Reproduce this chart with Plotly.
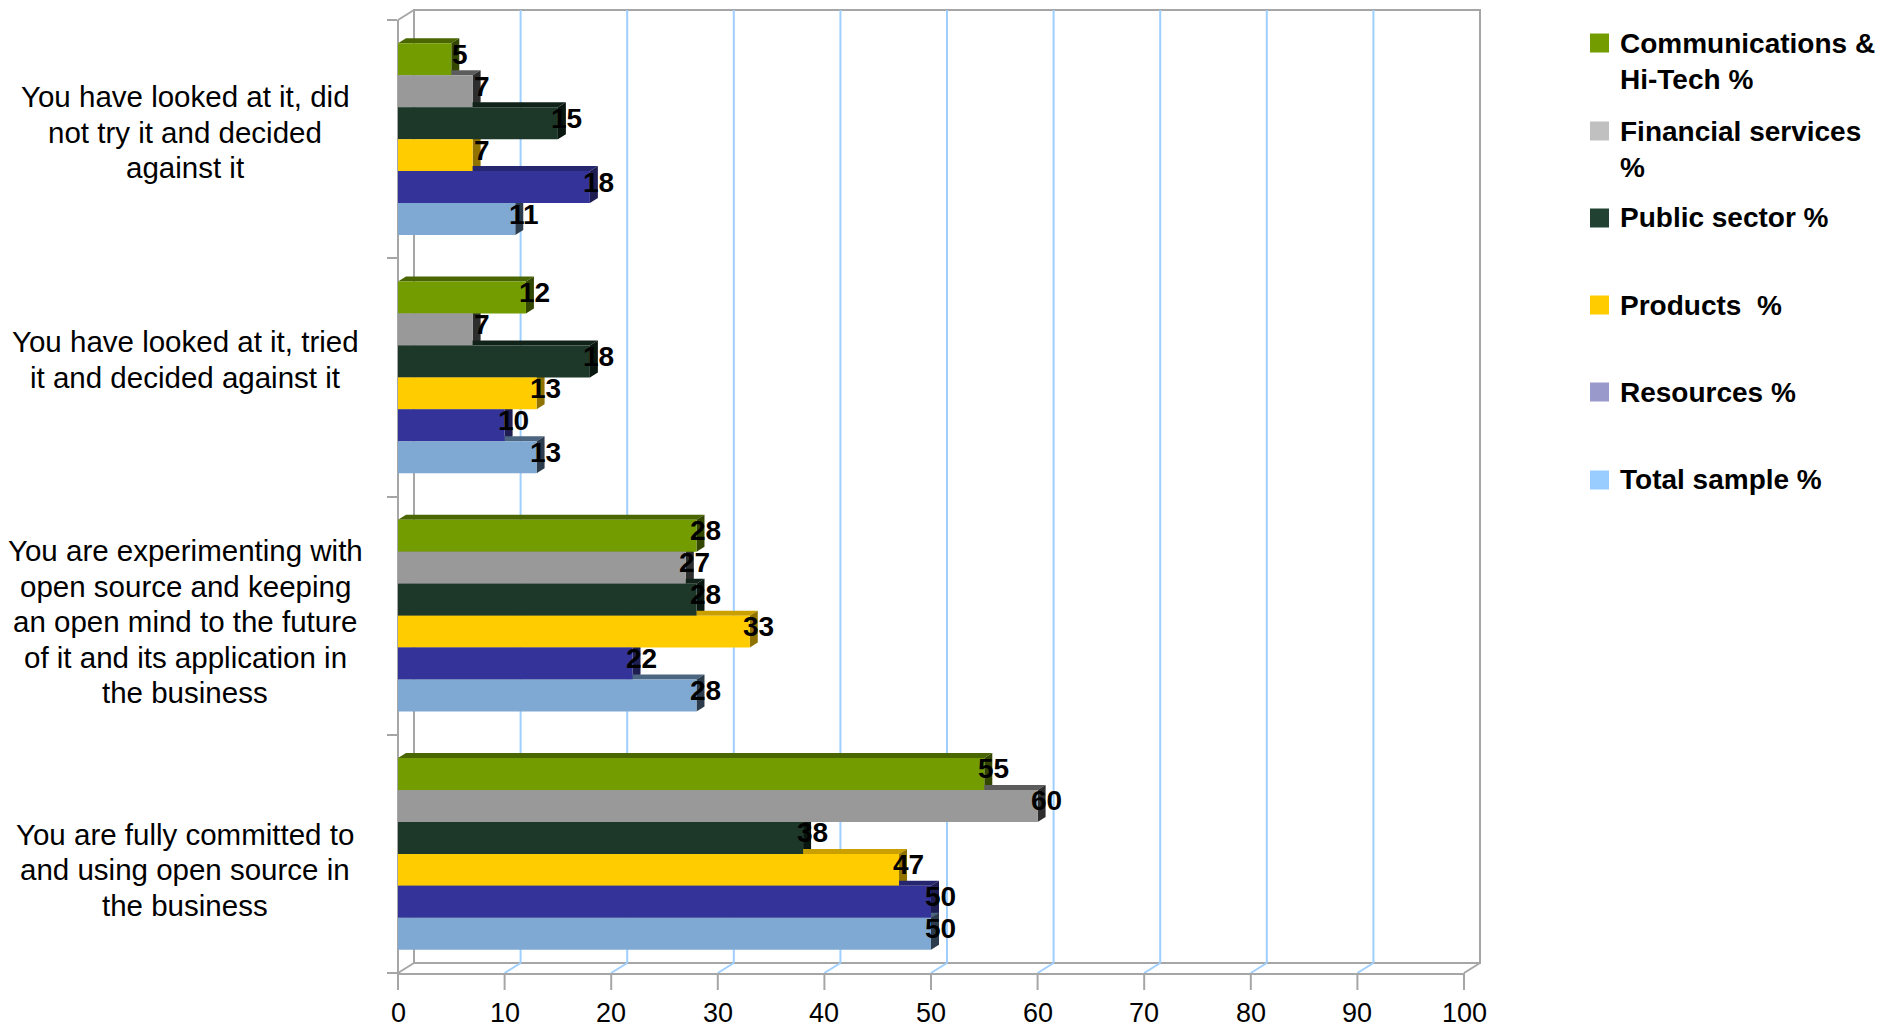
import plotly.graph_objects as go

# ---- data -------------------------------------------------------------
categories = [
    "You have looked at it, did<br>not try it and decided<br>against it",
    "You have looked at it, tried<br>it and decided against it",
    "You are experimenting with<br>open source and keeping<br>an open mind to the future<br>of it and its application in<br>the business",
    "You are fully committed to<br>and using open source in<br>the business",
]
series_names = [
    "Communications &<br>Hi-Tech %",
    "Financial services<br>%",
    "Public sector %",
    "Products  %",
    "Resources %",
    "Total sample %",
]
comms = [5, 12, 28, 55]
financial = [7, 7, 27, 60]
public = [15, 18, 28, 38]
products = [7, 13, 33, 47]
resources = [18, 10, 22, 50]
total = [11, 13, 28, 50]
x_ticks = [0, 10, 20, 30, 40, 50, 60, 70, 80, 90, 100]

series_values = [comms, financial, public, products, resources, total]

# ---- styling ----------------------------------------------------------
bar_colors = ["#739C00", "#999999", "#1D3829", "#FFCC00", "#333399", "#7FA8D2"]
top_colors = ["#4A6600", "#5C5C5C", "#112219", "#C9A000", "#26266E", "#4C6580"]
side_colors = ["#334700", "#2E2E2E", "#0A1610", "#8F7200", "#1E1E52", "#2C3C4C"]
legend_colors = ["#739C00", "#C0C0C0", "#214232", "#FFCC00", "#9999CC", "#99CCFF"]

FONT = "Liberation Sans, Arial, sans-serif"
GRID = "#9FCFFF"
FRAME = "#A6A6A6"

W, H = 1887, 1028
L, R, T, B = 398, 1464, 20, 973
PW, PH = R - L, B - T
DX, DY = 16, 10          # depth of the chart walls (px)
BDX, BDY = 8, 5          # depth of each bar (px)
TICK = 17                # length of the x tick marks (px)
XMAX = 100
NCAT = len(categories)
GROUP = 0.805
NS = len(series_values)
BW = GROUP / NS

ux = PW / XMAX           # px per x unit
uy = PH / NCAT           # px per category


def px_x(px):
    return (px - L) / PW


def px_y(py):
    return (B - py) / PH


fig = go.Figure()

# bars
for i, (name, vals) in enumerate(zip(series_names, series_values)):
    fig.add_trace(go.Bar(
        x=vals,
        y=list(range(NCAT)),
        orientation="h",
        width=BW,
        offset=-GROUP / 2 + i * BW,
        marker=dict(color=bar_colors[i], line=dict(width=0)),
        name=name.replace("<br>", " "),
        showlegend=False,
        hoverinfo="x+name",
    ))

shapes = []

# back wall, side wall and floor edges
dxp, dyp = DX / PW, DY / PH
line = dict(color=FRAME, width=2)
shapes.append(dict(type="rect", xref="paper", yref="paper", layer="below",
                   x0=dxp, x1=1 + dxp, y0=dyp, y1=1 + dyp, line=line))
for t in x_ticks[1:-1]:
    xp = t / XMAX
    shapes.append(dict(type="line", xref="paper", yref="paper", layer="below",
                       x0=xp + dxp, x1=xp + dxp, y0=dyp, y1=1 + dyp,
                       line=dict(color=GRID, width=2)))
    shapes.append(dict(type="line", xref="paper", yref="paper", layer="below",
                       x0=xp, x1=xp + dxp, y0=0, y1=dyp,
                       line=dict(color=GRID, width=2)))
for (xa, ya) in [(0, 0), (0, 1), (1, 0)]:
    shapes.append(dict(type="line", xref="paper", yref="paper", layer="below",
                       x0=xa, x1=xa + dxp, y0=ya, y1=ya + dyp, line=line))
shapes.append(dict(type="line", xref="paper", yref="paper", layer="below",
                   x0=0, x1=0, y0=0, y1=1, line=line))
# x tick marks below the floor edge
for t in x_ticks:
    xp = t / XMAX
    shapes.append(dict(type="line", xref="paper", yref="paper",
                       x0=xp, x1=xp, y0=0, y1=-TICK / PH,
                       line=dict(color=FRAME, width=2)))

# 3D faces of every bar
bdx, bdy = BDX / ux, BDY / uy
for i, vals in enumerate(series_values):
    for c, v in enumerate(vals):
        yt = c - GROUP / 2 + i * BW
        yb = yt + BW
        top = (f"M 0,{yt} L {v},{yt} L {v + bdx},{yt - bdy} "
               f"L {bdx},{yt - bdy} Z")
        side = (f"M {v},{yt} L {v + bdx},{yt - bdy} L {v + bdx},{yb - bdy} "
                f"L {v},{yb} Z")
        shapes.append(dict(type="path", xref="x", yref="y", layer="below",
                           path=top, fillcolor=top_colors[i], line=dict(width=0)))
        shapes.append(dict(type="path", xref="x", yref="y", layer="below",
                           path=side, fillcolor=side_colors[i], line=dict(width=0)))

annotations = []

# value labels
for i, vals in enumerate(series_values):
    for c, v in enumerate(vals):
        yc = c - GROUP / 2 + (i + 0.5) * BW
        annotations.append(dict(
            x=v, y=yc, xref="x", yref="y", text=f"<b>{v}</b>",
            showarrow=False, xanchor="center", yanchor="middle",
            xshift=9, yshift=5,
            font=dict(family=FONT, size=28, color="#000000"),
        ))

# x tick labels
for t in x_ticks:
    annotations.append(dict(
        x=t, y=px_y(1013), xref="x", yref="paper", text=str(t),
        showarrow=False, xanchor="center", yanchor="middle",
        font=dict(family=FONT, size=27, color="#000000"),
    ))

# category labels, one annotation per line
cat_shift = [7, 18, -6, -16]
CAT_LINE = 35.5
for c, label in enumerate(categories):
    lines = label.split("<br>")
    n = len(lines)
    for j, txt in enumerate(lines):
        annotations.append(dict(
            x=px_x(185), y=c, xref="paper", yref="y", text=txt,
            showarrow=False, xanchor="center", yanchor="middle",
            yshift=cat_shift[c] - (j - (n - 1) / 2) * CAT_LINE,
            font=dict(family=FONT, size=29.5, color="#000000"),
        ))

# legend
legend_y = [43, 131, 218, 305, 392, 480]
LEG_LINE = 36.5
for k, (name, col) in enumerate(zip(series_names, legend_colors)):
    cy = legend_y[k]
    shapes.append(dict(type="rect", xref="paper", yref="paper",
                       x0=px_x(1590), x1=px_x(1609),
                       y0=px_y(cy + 9.5), y1=px_y(cy - 9.5),
                       fillcolor=col, line=dict(width=0)))
    for j, txt in enumerate(name.split("<br>")):
        annotations.append(dict(
            x=px_x(1618), y=px_y(cy + j * LEG_LINE), xref="paper", yref="paper",
            text=f"<b>{txt}</b>", showarrow=False,
            xanchor="left", yanchor="middle",
            font=dict(family=FONT, size=28, color="#000000"),
        ))

fig.update_layout(
    width=W, height=H,
    margin=dict(l=L, r=W - R, t=T, b=H - B, pad=0, autoexpand=False),
    paper_bgcolor="#FFFFFF",
    plot_bgcolor="rgba(0,0,0,0)",
    barmode="overlay",
    showlegend=False,
    shapes=shapes,
    annotations=annotations,
    xaxis=dict(
        range=[0, XMAX],
        showticklabels=False,
        showgrid=False, zeroline=False, automargin=False,
        showline=True, linecolor=FRAME, linewidth=2,
        ticks="",
        fixedrange=True,
    ),
    yaxis=dict(
        range=[NCAT - 0.5, -0.5],
        tickvals=[c - 0.5 for c in range(NCAT + 1)],
        showticklabels=False, automargin=False,
        showgrid=False, zeroline=False,
        showline=False,
        ticks="outside", ticklen=10, tickcolor=FRAME, tickwidth=2,
        fixedrange=True,
    ),
)

fig.write_html("out.html")
